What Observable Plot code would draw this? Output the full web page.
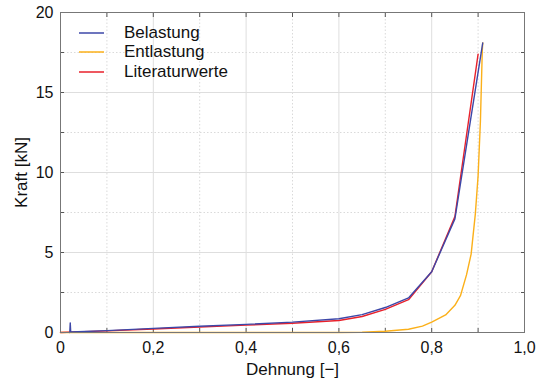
<!DOCTYPE html>
<html>
<head>
<meta charset="utf-8">
<script src="https://cdn.jsdelivr.net/npm/d3@7"></script>
<script src="https://cdn.jsdelivr.net/npm/@observablehq/plot@0.6"></script>
<style>
  html, body { margin: 0; padding: 0; background: #fff; }
  #wrap { position: relative; width: 537px; height: 381px; font-family: "Liberation Sans", Arial, sans-serif; }
  #legend { position: absolute; left: 79px; top: 23px; font-size: 17px; color: #111; }
  #legend .row { display: flex; align-items: center; height: 19.5px; }
  #legend svg { margin-right: 20px; display: block; }
</style>
</head>
<body>
<div id="wrap"><div id="legend"></div></div>
<script>
const seriesNames = ["Belastung", "Entlastung", "Literaturwerte"];
const seriesColors = ["#3d47a8", "#fbb01a", "#e8212b"];

const belastungX = [0.020, 0.021, 0.022, 0.1, 0.2, 0.3, 0.4, 0.5, 0.6, 0.65, 0.7, 0.75, 0.8, 0.85, 0.91];
const belastungY = [0.0, 0.6, 0.03, 0.12, 0.26, 0.39, 0.51, 0.65, 0.86, 1.12, 1.56, 2.16, 3.8, 7.1, 18.1];

const entlastungX = [0.0, 0.3, 0.6, 0.65, 0.7, 0.75, 0.78, 0.8, 0.83, 0.85, 0.862, 0.875, 0.885, 0.894, 0.9, 0.905, 0.909, 0.91];
const entlastungY = [0.0, 0.0, 0.0, 0.02, 0.08, 0.2, 0.4, 0.65, 1.1, 1.7, 2.3, 3.6, 4.9, 7.4, 9.8, 13.2, 17.6, 18.1];

const literaturX = [0.0, 0.1, 0.2, 0.3, 0.4, 0.5, 0.6, 0.65, 0.7, 0.75, 0.8, 0.85, 0.9];
const literaturY = [0.0, 0.1, 0.22, 0.34, 0.46, 0.58, 0.75, 1.0, 1.45, 2.05, 3.8, 7.25, 17.4];

const xMajor = [0, 0.2, 0.4, 0.6, 0.8, 1.0];
const xMinor = [0.1, 0.3, 0.5, 0.7, 0.9];
const yMajor = [0, 5, 10, 15, 20];
const yMinor = [2.5, 7.5, 12.5, 17.5];

const toRows = (xs, ys) => xs.map((x, i) => ({x, y: ys[i]}));
const belastung = toRows(belastungX, belastungY);
const entlastung = toRows(entlastungX, entlastungY);
const literatur = toRows(literaturX, literaturY);

const xFmt = d => d === 0 ? "0" : d3.format(".1f")(d).replace(".", ",");

const chart = Plot.plot({
  width: 537,
  height: 381,
  marginLeft: 60,
  marginRight: 13,
  marginTop: 12,
  marginBottom: 49,
  style: { fontFamily: "Liberation Sans, Arial, sans-serif", fontSize: "16px", color: "#111", background: "#fff" },
  x: { domain: [0, 1] },
  y: { domain: [0, 20] },
  marks: [
    Plot.ruleX(xMinor, { stroke: "#d0d0d0", strokeWidth: 0.8, strokeDasharray: "1.5,2" }),
    Plot.ruleY(yMinor, { stroke: "#d0d0d0", strokeWidth: 0.8, strokeDasharray: "1.5,2" }),
    Plot.ruleX(xMajor, { stroke: "#dedede", strokeWidth: 1 }),
    Plot.ruleY(yMajor, { stroke: "#dedede", strokeWidth: 1 }),
    Plot.axisX({ ticks: xMajor, tickSize: 0, tickPadding: 9, tickFormat: xFmt, fontSize: 16, label: null }),
    Plot.axisY({ ticks: yMajor, tickSize: 0, tickPadding: 7, tickFormat: d => String(d), fontSize: 16, label: null }),
    Plot.axisX({ ticks: [], tickSize: 0, label: "Dehnung [−]", labelAnchor: "center", labelOffset: 42, labelArrow: "none", fontSize: 17 }),
    Plot.axisY({ ticks: [], tickSize: 0, label: "Kraft [kN]", labelAnchor: "center", labelOffset: 46, labelArrow: "none", fontSize: 17 }),
    Plot.axisX({ ticks: xMajor.concat(xMinor), tickSize: -4, tickFormat: () => "", anchor: "bottom", label: null, stroke: "#555" }),
    Plot.axisX({ ticks: xMajor.concat(xMinor), tickSize: -4, tickFormat: () => "", anchor: "top", label: null, stroke: "#555" }),
    Plot.axisY({ ticks: yMajor.concat(yMinor), tickSize: -4, tickFormat: () => "", anchor: "left", label: null, stroke: "#555" }),
    Plot.axisY({ ticks: yMajor.concat(yMinor), tickSize: -4, tickFormat: () => "", anchor: "right", label: null, stroke: "#555" }),
    Plot.line(entlastung, { x: "x", y: "y", stroke: seriesColors[1], strokeWidth: 1.4 }),
    Plot.line(literatur, { x: "x", y: "y", stroke: seriesColors[2], strokeWidth: 1.4 }),
    Plot.line(belastung, { x: "x", y: "y", stroke: seriesColors[0], strokeWidth: 1.4 }),
    Plot.frame({ stroke: "#777", strokeWidth: 1 })
  ]
});
document.getElementById("wrap").prepend(chart);

const legend = document.getElementById("legend");
const NS = "http://www.w3.org/2000/svg";
seriesNames.forEach((n, i) => {
  const row = document.createElement("div");
  row.className = "row";
  const s = document.createElementNS(NS, "svg");
  s.setAttribute("width", "25"); s.setAttribute("height", "4");
  const ln = document.createElementNS(NS, "line");
  ln.setAttribute("x1", "0"); ln.setAttribute("x2", "25");
  ln.setAttribute("y1", "2"); ln.setAttribute("y2", "2");
  ln.setAttribute("stroke", seriesColors[i]); ln.setAttribute("stroke-width", "1.5");
  s.appendChild(ln);
  const t = document.createElement("span");
  t.textContent = n;
  row.appendChild(s); row.appendChild(t);
  legend.appendChild(row);
});
</script>
</body>
</html>
